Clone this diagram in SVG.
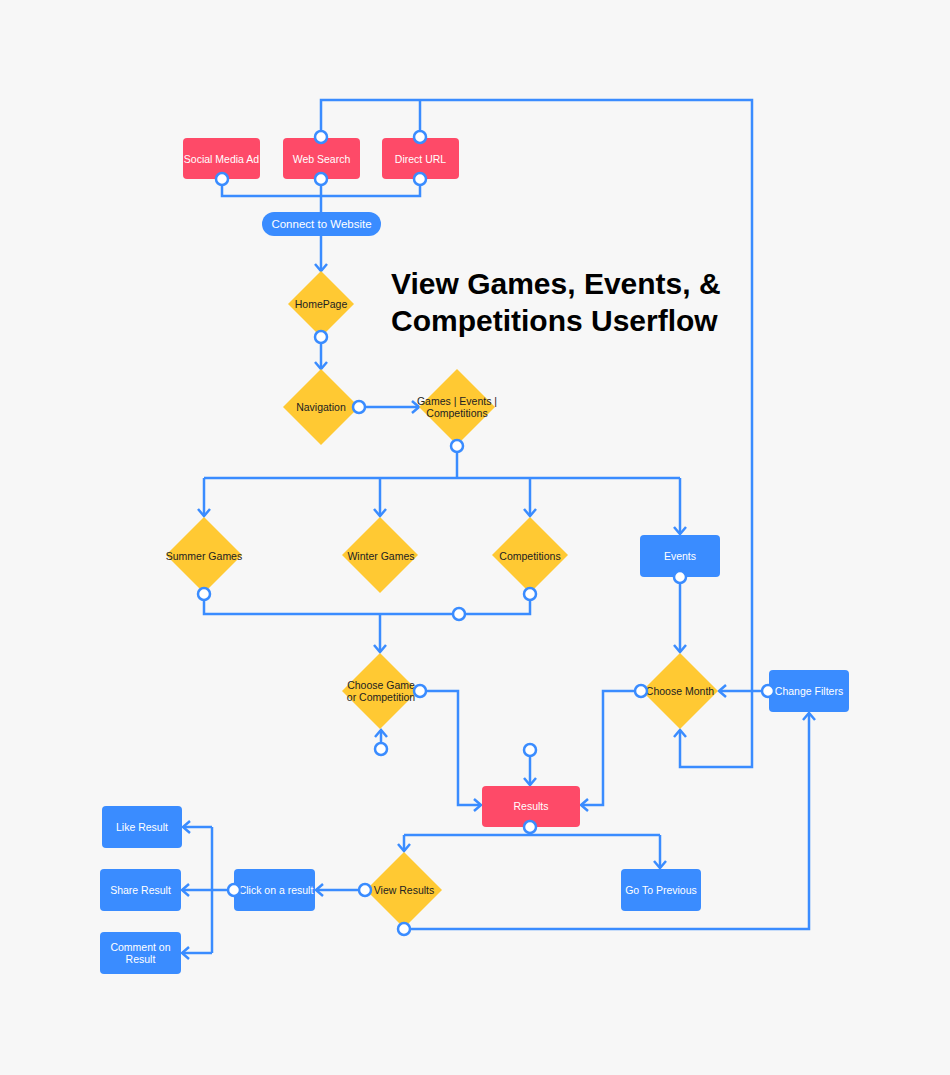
<svg xmlns="http://www.w3.org/2000/svg" width="950" height="1075" viewBox="0 0 950 1075">
<defs>
<style>
.bg{fill:#f7f7f7}
.red{fill:#fe4a68}
.blue{fill:#3a8cff}
.yel{fill:#ffc933}
.lt{font-family:"Liberation Sans",Arial,sans-serif;font-size:10.5px;fill:#ffffff;text-anchor:middle}
.dt{font-family:"Liberation Sans",Arial,sans-serif;font-size:10.5px;fill:#222222;text-anchor:middle}
.ln{fill:none;stroke:#3a8cff;stroke-width:2.5;stroke-linejoin:miter}
.ar{marker-end:url(#arr)}
.port{fill:#ffffff;stroke:#3a8cff;stroke-width:2.5}
.title{font-family:"Liberation Sans",Arial,sans-serif;font-size:30px;font-weight:bold;fill:#000000}
</style>
<marker id="arr" viewBox="-10 -8 12 16" refX="0" refY="0" markerWidth="12" markerHeight="16" markerUnits="userSpaceOnUse" orient="auto">
<path d="M-7,-6 L0,0 L-7,6" fill="none" stroke="#3a8cff" stroke-width="2.5"/>
</marker>
</defs>
<rect class="bg" x="0" y="0" width="950" height="1075"/>

<g id="connectors">
<path class="ln ar" d="M321,131 V100 H752 V767 H680 V730"/>
<path class="ln" d="M420,131 V100"/>
<path class="ln" d="M222,185 V196 H420 V185"/>
<path class="ln" d="M321,185 V214"/>
<path class="ln ar" d="M321,234 V271"/>
<path class="ln ar" d="M321,343 V369"/>
<path class="ln ar" d="M365,407 H419"/>
<path class="ln" d="M457,452 V478"/>
<path class="ln" d="M204,478 H680"/>
<path class="ln ar" d="M204,478 V516"/>
<path class="ln ar" d="M380,478 V516"/>
<path class="ln ar" d="M530,478 V516"/>
<path class="ln ar" d="M680,478 V534"/>
<path class="ln" d="M204,600 V614 H530 V600"/>
<path class="ln ar" d="M380,614 V652"/>
<path class="ln ar" d="M680,583 V652"/>
<path class="ln ar" d="M635,691 H603 V805 H581"/>
<path class="ln ar" d="M762,691 H719"/>
<path class="ln ar" d="M426,691 H458 V805 H481"/>
<path class="ln ar" d="M381,743 V730"/>
<path class="ln ar" d="M530,756 V785"/>
<path class="ln" d="M530,833 V835"/>
<path class="ln" d="M404,835 H660"/>
<path class="ln ar" d="M404,835 V851"/>
<path class="ln ar" d="M660,835 V868"/>
<path class="ln ar" d="M410,929 H809 V713"/>
<path class="ln ar" d="M359,890 H316"/>
<path class="ln ar" d="M228,890 H182"/>
<path class="ln" d="M212,827 V953"/>
<path class="ln ar" d="M212,827 H183"/>
<path class="ln ar" d="M212,953 H182"/>
</g>

<g id="social-media-ad"><rect class="red" x="183" y="138" width="77" height="41" rx="4"/><text class="lt" x="221.5" y="163">Social Media Ad</text></g>
<g id="web-search"><rect class="red" x="283" y="138" width="77" height="41" rx="4"/><text class="lt" x="321.5" y="163">Web Search</text></g>
<g id="direct-url"><rect class="red" x="382" y="138" width="77" height="41" rx="4"/><text class="lt" x="420.5" y="163">Direct URL</text></g>
<g id="connect-to-website"><rect class="blue" x="262" y="212" width="119" height="24" rx="12"/><text class="lt" x="321.5" y="228" style="font-size:11.5px">Connect to Website</text></g>
<g id="homepage"><polygon class="yel" points="321,271 354,304 321,337 288,304"/><text class="dt" x="321" y="308">HomePage</text></g>
<g id="navigation"><polygon class="yel" points="321,369 359,407 321,445 283,407"/><text class="dt" x="321" y="411">Navigation</text></g>
<g id="games-events-competitions"><polygon class="yel" points="457,369 495,407 457,445 419,407"/><text class="dt" x="457" y="405">Games | Events |</text><text class="dt" x="457" y="417">Competitions</text></g>
<g id="summer-games"><polygon class="yel" points="204,517 242,555 204,593 166,555"/><text class="dt" x="204" y="560">Summer Games</text></g>
<g id="winter-games"><polygon class="yel" points="380,517 418,555 380,593 342,555"/><text class="dt" x="381" y="560">Winter Games</text></g>
<g id="competitions"><polygon class="yel" points="530,517 568,555 530,593 492,555"/><text class="dt" x="530" y="560">Competitions</text></g>
<g id="events"><rect class="blue" x="640" y="535" width="80" height="42" rx="4"/><text class="lt" x="680" y="560">Events</text></g>
<g id="choose-game"><polygon class="yel" points="380,653 418,691 380,729 342,691"/><text class="dt" x="381" y="689">Choose Game</text><text class="dt" x="381" y="701">or Competition</text></g>
<g id="choose-month"><polygon class="yel" points="680,653 718,691 680,729 642,691"/><text class="dt" x="680" y="695">Choose Month</text></g>
<g id="change-filters"><rect class="blue" x="769" y="670" width="80" height="42" rx="4"/><text class="lt" x="809" y="695">Change Filters</text></g>
<g id="results"><rect class="red" x="482" y="786" width="98" height="41" rx="4"/><text class="lt" x="531" y="810">Results</text></g>
<g id="view-results"><polygon class="yel" points="404,852 442,890 404,928 366,890"/><text class="dt" x="404" y="894">View Results</text></g>
<g id="go-to-previous"><rect class="blue" x="621" y="869" width="80" height="42" rx="4"/><text class="lt" x="661" y="894">Go To Previous</text></g>
<g id="click-on-a-result"><rect class="blue" x="234" y="869" width="81" height="42" rx="4"/><text class="lt" x="276" y="894">Click on a result</text></g>
<g id="like-result"><rect class="blue" x="102" y="806" width="80" height="42" rx="4"/><text class="lt" x="142" y="831">Like Result</text></g>
<g id="share-result"><rect class="blue" x="100" y="869" width="81" height="42" rx="4"/><text class="lt" x="140.5" y="894">Share Result</text></g>
<g id="comment-on-result"><rect class="blue" x="100" y="932" width="81" height="42" rx="4"/><text class="lt" x="140.5" y="951">Comment on</text><text class="lt" x="140.5" y="963">Result</text></g>

<g id="ports">
<circle class="port" cx="321" cy="137" r="6"/>
<circle class="port" cx="420" cy="137" r="6"/>
<circle class="port" cx="222" cy="179" r="6"/>
<circle class="port" cx="321" cy="179" r="6"/>
<circle class="port" cx="420" cy="179" r="6"/>
<circle class="port" cx="321" cy="337" r="6"/>
<circle class="port" cx="359" cy="407" r="6"/>
<circle class="port" cx="457" cy="446" r="6"/>
<circle class="port" cx="204" cy="594" r="6"/>
<circle class="port" cx="530" cy="594" r="6"/>
<circle class="port" cx="459" cy="614" r="6"/>
<circle class="port" cx="680" cy="577" r="6"/>
<circle class="port" cx="641" cy="691" r="6"/>
<circle class="port" cx="768" cy="691" r="6"/>
<circle class="port" cx="420" cy="691" r="6"/>
<circle class="port" cx="381" cy="749" r="6"/>
<circle class="port" cx="530" cy="750" r="6"/>
<circle class="port" cx="530" cy="827" r="6"/>
<circle class="port" cx="365" cy="890" r="6"/>
<circle class="port" cx="404" cy="929" r="6"/>
<circle class="port" cx="234" cy="890" r="6"/>
</g>

<g id="title">
<text class="title" x="391" y="294">View Games, Events, &amp;</text>
<text class="title" x="391" y="331">Competitions Userflow</text>
</g>
</svg>
